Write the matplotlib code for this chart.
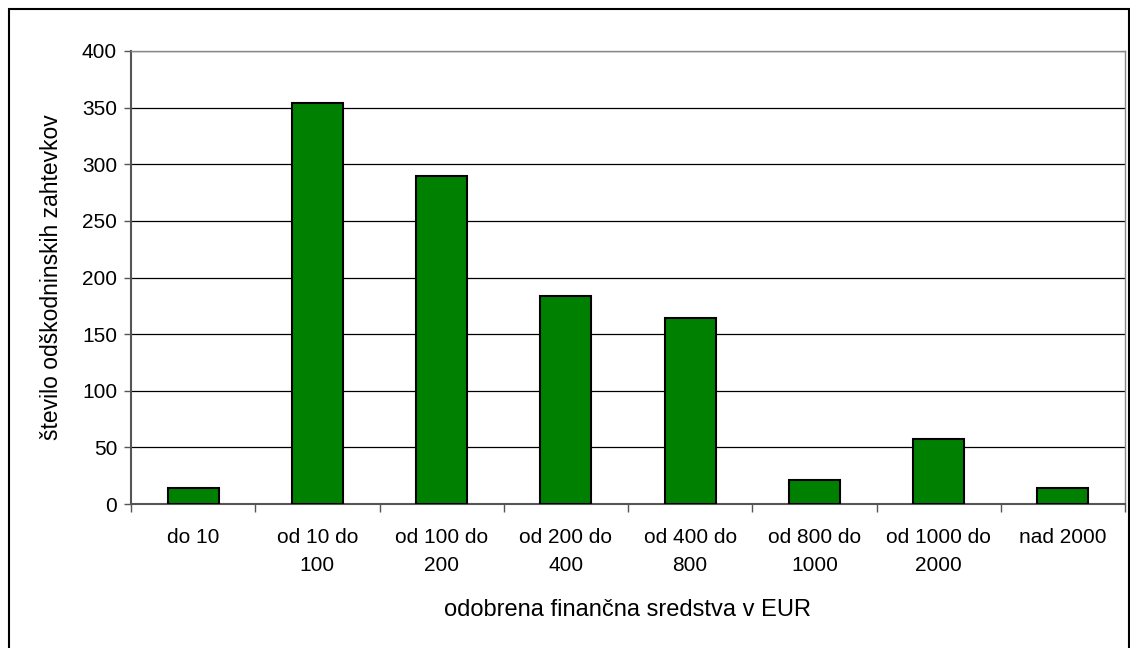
import numpy as np
import matplotlib
matplotlib.use("Agg")
import matplotlib.pyplot as plt
from matplotlib.patches import Rectangle

# === data ===
categories = ["do 10", "od 10 do\n100", "od 100 do\n200", "od 200 do\n400",
              "od 400 do\n800", "od 800 do\n1000", "od 1000 do\n2000", "nad 2000"]
counts = [14, 354, 290, 184, 164, 21, 57, 14]

plt.rcParams['font.family'] = ['Liberation Sans', 'DejaVu Sans']

fig = plt.figure(figsize=(11.3, 6.48), dpi=100)
ax = fig.add_axes([131 / 1130, 1 - 504 / 648, (1125 - 131) / 1130, (504 - 51) / 648])

x = np.arange(len(categories))
ax.bar(x, counts, width=0.41, color="#008000", edgecolor="black", linewidth=1.5, zorder=3)

ax.set_xlim(-0.5, len(categories) - 0.5)
ax.set_ylim(0, 400)
ax.set_yticks(np.arange(0, 401, 50))
ax.yaxis.grid(True, color="black", linewidth=0.9, zorder=0)
ax.tick_params(axis="y", labelsize=15, length=5, width=1, color="#555555", pad=5)

ax.set_xticks(x)
ax.set_xticklabels(categories, fontsize=15, linespacing=1.65)
ax.tick_params(axis="x", which="major", length=0, pad=17)
ax.set_xticks(np.arange(-0.5, len(categories) + 0.5, 1), minor=True)
ax.tick_params(axis="x", which="minor", length=6, width=1, color="#555555")

for s in ["left", "bottom"]:
    ax.spines[s].set_color("#555555")
    ax.spines[s].set_linewidth(1.5)
for s in ["top", "right"]:
    ax.spines[s].set_color("#888888")
    ax.spines[s].set_linewidth(1)

ax.set_xlabel("odobrena finančna sredstva v EUR", fontsize=17, labelpad=17)
ax.set_ylabel("število odškodninskih zahtevkov", fontsize=16.5, labelpad=14)

# frame around the whole chart
fig.patches.append(Rectangle((9 / 1130, -0.01), 1120 / 1130, 1 - 9 / 648 + 0.01,
                             transform=fig.transFigure, fill=False,
                             edgecolor="black", linewidth=1.5))

plt.savefig("out.png", dpi=100)
plt.close()
